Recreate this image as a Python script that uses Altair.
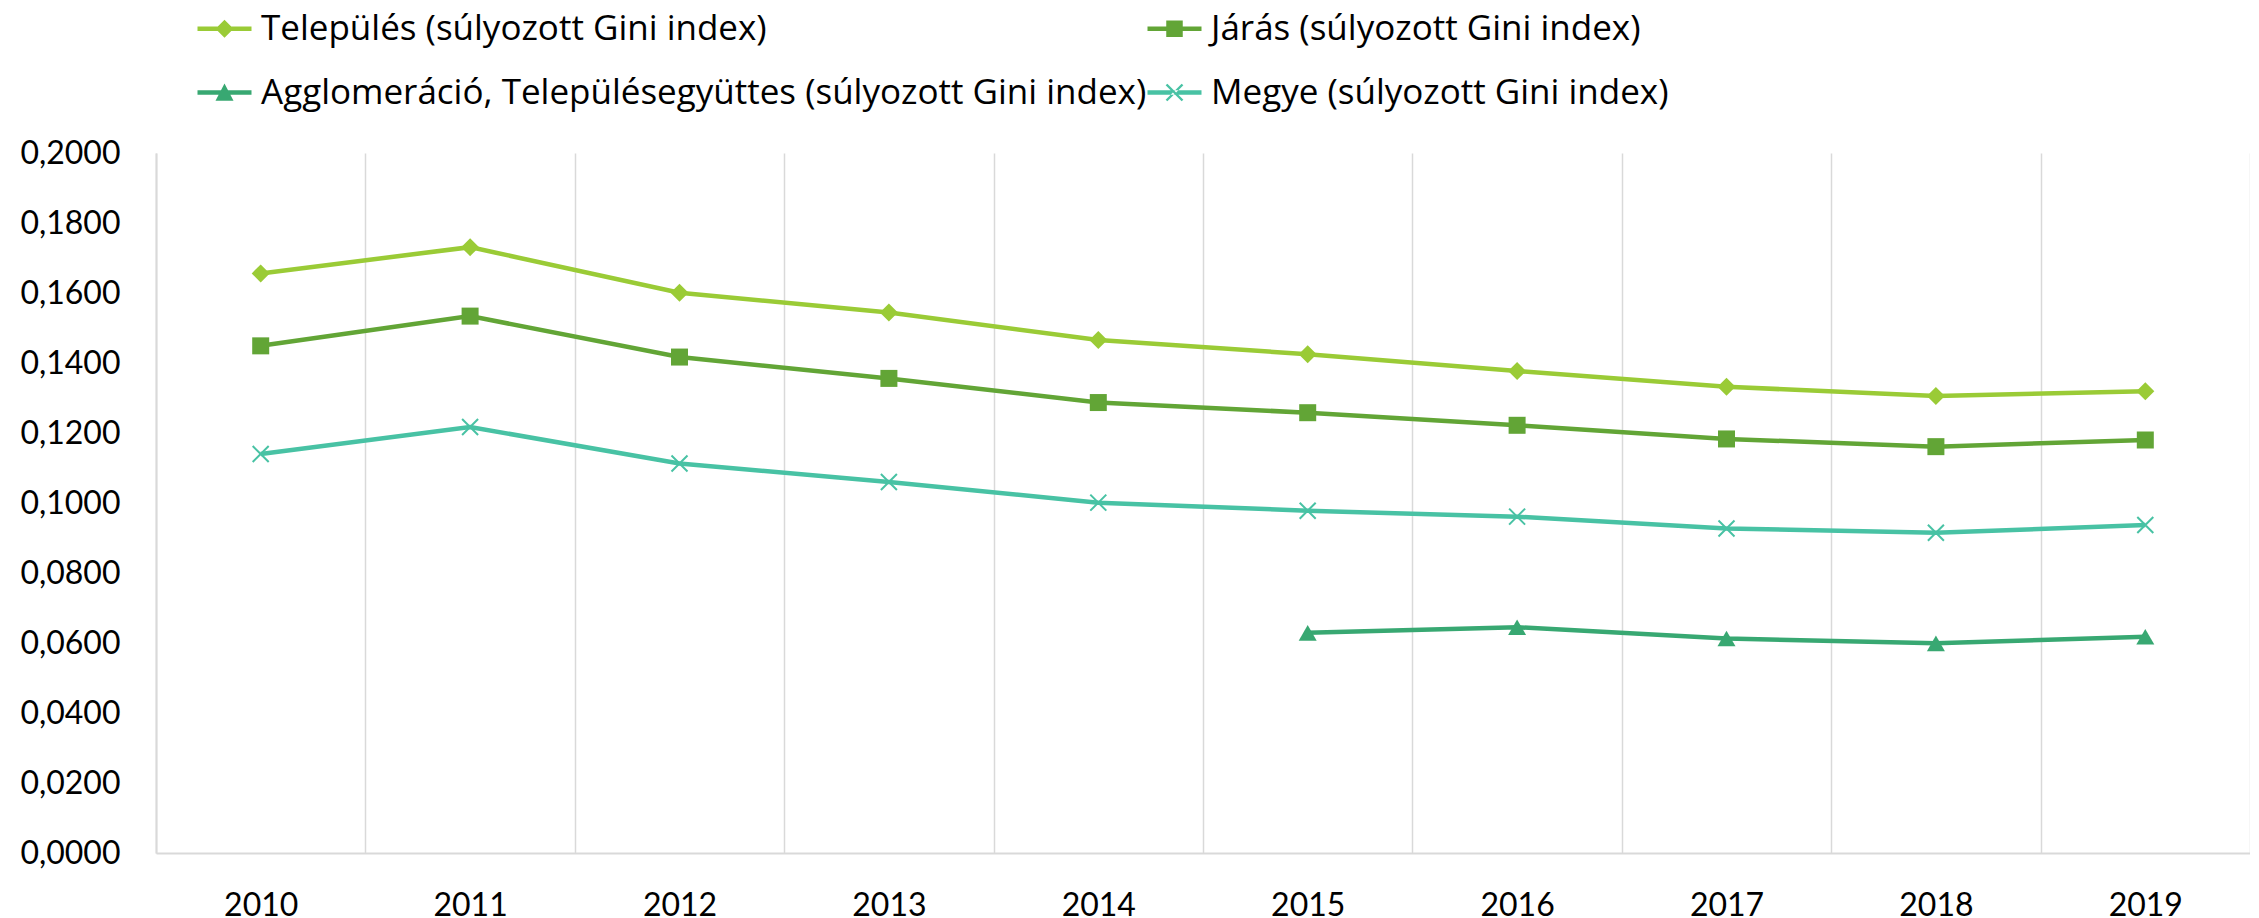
import altair as alt
import pandas as pd

years = [2010, 2011, 2012, 2013, 2014, 2015, 2016, 2017, 2018, 2019]
series_names = [
    "Település (súlyozott Gini index)",
    "Járás (súlyozott Gini index)",
    "Agglomeráció, Településegyüttes (súlyozott Gini index)",
    "Megye (súlyozott Gini index)",
]
telepules = [0.1656, 0.1731, 0.1601, 0.1544, 0.1466, 0.1425, 0.1377, 0.1332, 0.1306, 0.1319]
jaras = [0.1449, 0.1534, 0.1417, 0.1356, 0.1287, 0.1258, 0.1222, 0.1183, 0.1161, 0.1180]
agglo = [None, None, None, None, None, 0.0629, 0.0645, 0.0613, 0.0599, 0.0618]
megye = [0.1140, 0.1217, 0.1113, 0.1060, 0.1001, 0.0978, 0.0961, 0.0927, 0.0915, 0.0937]
colors = ["#9ACB36", "#62A536", "#38A872", "#48C2A4"]
y_ticks = [0.0, 0.02, 0.04, 0.06, 0.08, 0.10, 0.12, 0.14, 0.16, 0.18, 0.20]

rows = []
for name, vals in zip(series_names, [telepules, jaras, agglo, megye]):
    for yr, v in zip(years, vals):
        if v is not None:
            rows.append({"Év": str(yr), "Sorozat": name, "Érték": v})
df = pd.DataFrame(rows)

FONT = "Lato"
LEG_FONT = "Open Sans"

x = alt.X(
    "Év:O",
    scale=alt.Scale(type="band", paddingInner=0, paddingOuter=0),
    axis=alt.Axis(
        title=None, labelAngle=0, tickBand="extent", grid=True,
        gridColor="#d9d9d9", gridWidth=1.5, ticks=False,
        domainColor="#d9d9d9", domainWidth=2,
        labelFont=FONT, labelFontSize=32, labelPadding=37, labelColor="#000000",
    ),
)
y = alt.Y(
    "Érték:Q",
    scale=alt.Scale(domain=[0, 0.2], nice=False, zero=True),
    axis=alt.Axis(
        title=None, values=y_ticks,
        labelExpr="replace(format(datum.value, '.4f'), '.', ',')",
        grid=False, ticks=False, domainColor="#d9d9d9", domainWidth=2,
        labelFont=FONT, labelFontSize=32, labelPadding=36, labelColor="#000000",
    ),
)

base = alt.Chart(df)

lines = base.mark_line(strokeWidth=4.5).encode(
    x=x, y=y,
    color=alt.Color("Sorozat:N", scale=alt.Scale(domain=series_names, range=colors), legend=None),
)

X_PATH = "M-1,-1L1,1M-1,1L1,-1"
p1 = base.transform_filter(alt.datum.Sorozat == series_names[0]).mark_point(
    shape="diamond", filled=True, size=324, opacity=1, color=colors[0]).encode(x=x, y=y)
p2 = base.transform_filter(alt.datum.Sorozat == series_names[1]).mark_point(
    shape="square", filled=True, size=289, opacity=1, color=colors[1]).encode(x=x, y=y)
p3 = base.transform_filter(alt.datum.Sorozat == series_names[2]).mark_point(
    shape="triangle-up", filled=True, size=324, opacity=1, color=colors[2]).encode(x=x, y=y)
p4 = base.transform_filter(alt.datum.Sorozat == series_names[3]).mark_point(
    shape=X_PATH, filled=False, size=256, opacity=1, strokeWidth=2, color=colors[3]).encode(x=x, y=y)

# legend symbols: line segment + marker, fill-only paths
LINE = "M-1.8,-0.15H1.8V0.15H-1.8Z"
d = 0.057
a = 0.533
x_poly = (
    f"M{-a+d},{-a-d}L{a+d},{a-d}L{a-d},{a+d}L{-a-d},{-a+d}Z"
    f"M{-a+d},{a+d}L{a+d},{-a+d}L{a-d},{-a-d}L{-a-d},{a-d}Z"
)
legend_paths = {
    series_names[0]: LINE + "M0,-0.6L0.6,0L0,0.6L-0.6,0Z",
    series_names[1]: LINE + "M-0.55,-0.55H0.55V0.55H-0.55Z",
    series_names[2]: LINE + "M0,-0.6L0.6,0.55H-0.6Z",
    series_names[3]: LINE + x_poly,
}
color_of = dict(zip(series_names, colors))
# legend fills column by column: first column = Település, Agglomeráció
legend_order = [series_names[0], series_names[2], series_names[1], series_names[3]]

leg = alt.Legend(
    title=None, orient="none", legendX=51, legendY=-142, columns=2,
    columnPadding=0, rowPadding=28, labelFont=LEG_FONT, labelFontSize=35,
    labelLimit=1500, labelOffset=19, symbolSize=900, symbolStrokeWidth=0,
    padding=0, labelColor="#000000", symbolOpacity=1,
)
legend_layer = base.transform_filter("false").mark_point(
    filled=True, size=900, opacity=1).encode(
    x=x, y=y,
    color=alt.Color("Sorozat:N", scale=alt.Scale(domain=legend_order, range=[color_of[s] for s in legend_order]), legend=leg),
    shape=alt.Shape("Sorozat:N", scale=alt.Scale(domain=legend_order, range=[legend_paths[s] for s in legend_order]), legend=leg),
)

chart = alt.layer(lines, p1, p2, p3, p4, legend_layer).resolve_scale(
    color="independent", shape="independent"
).properties(
    width=2094, height=700,
    padding={"left": 148, "top": 145, "right": 0, "bottom": 70},
    autosize=alt.AutoSizeParams(type="none"),
    background="white",
).configure_view(stroke=None)

chart.save("out.html", embed_options={"renderer": "svg", "actions": False})
